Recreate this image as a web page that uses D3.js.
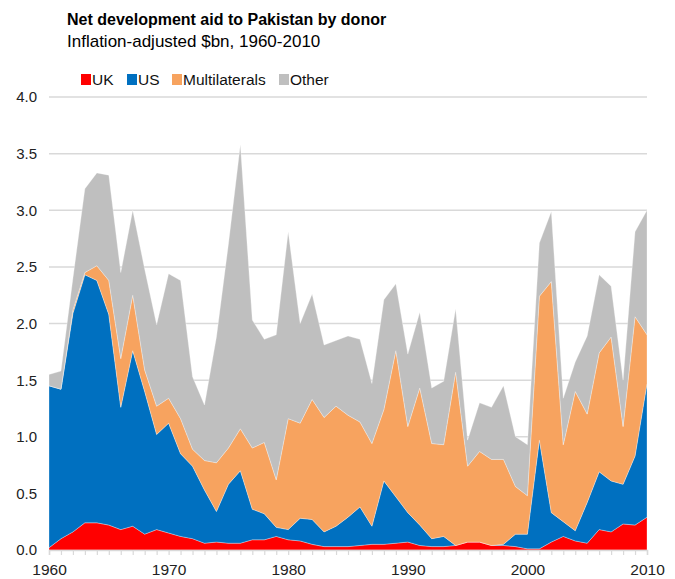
<!DOCTYPE html>
<html>
<head>
<meta charset="utf-8">
<script src="https://cdn.jsdelivr.net/npm/d3@7"></script>
<style>
  body { margin: 0; background: #fff; }
  text { font-family: "Liberation Sans", Arial, sans-serif; }
</style>
</head>
<body>
<svg id="chart" width="675" height="579"></svg>
<script>
const years = d3.range(1960, 2011);

const uk = [0.02, 0.10, 0.16, 0.24, 0.24, 0.22, 0.18, 0.21, 0.14, 0.18,
  0.15, 0.12, 0.10, 0.06, 0.07, 0.06, 0.06, 0.09, 0.09, 0.12,
  0.09, 0.08, 0.05, 0.03, 0.03, 0.03, 0.04, 0.05, 0.05, 0.06,
  0.07, 0.04, 0.03, 0.03, 0.04, 0.07, 0.07, 0.04, 0.04, 0.03,
  0.01, 0.01, 0.07, 0.12, 0.08, 0.06, 0.18, 0.16, 0.23, 0.22, 0.29];

const us = [1.43, 1.32, 1.93, 2.19, 2.14, 1.86, 1.08, 1.55, 1.26, 0.84,
  0.97, 0.73, 0.64, 0.47, 0.27, 0.52, 0.64, 0.27, 0.23, 0.08,
  0.09, 0.20, 0.22, 0.13, 0.18, 0.26, 0.34, 0.16, 0.56, 0.41,
  0.26, 0.18, 0.07, 0.09, 0.00, 0.00, 0.00, 0.00, 0.01, 0.11,
  0.13, 0.96, 0.26, 0.13, 0.09, 0.36, 0.51, 0.45, 0.35, 0.61, 1.18];

const multilaterals = [0.00, 0.00, 0.03, 0.02, 0.13, 0.30, 0.43, 0.49, 0.19, 0.25,
  0.22, 0.31, 0.15, 0.26, 0.43, 0.32, 0.37, 0.54, 0.63, 0.42,
  0.98, 0.84, 1.06, 1.01, 1.06, 0.90, 0.75, 0.73, 0.63, 1.29,
  0.76, 1.21, 0.84, 0.81, 1.53, 0.67, 0.80, 0.76, 0.75, 0.42,
  0.34, 1.27, 2.04, 0.68, 1.23, 0.78, 1.05, 1.27, 0.51, 1.23, 0.43];

const other = [0.10, 0.16, 0.28, 0.74, 0.82, 0.93, 0.76, 0.75, 0.89, 0.72,
  1.10, 1.22, 0.64, 0.49, 1.11, 1.80, 2.51, 1.13, 0.91, 1.28,
  1.65, 0.88, 0.93, 0.64, 0.58, 0.70, 0.73, 0.53, 0.97, 0.59,
  0.64, 0.67, 0.49, 0.56, 0.56, 0.23, 0.43, 0.46, 0.65, 0.44,
  0.45, 0.47, 0.62, 0.41, 0.26, 0.69, 0.69, 0.45, 0.41, 0.75, 1.10];

const seriesNames = ["UK", "US", "Multilaterals", "Other"];
const colors = ["#ff0000", "#0070c0", "#f7a35f", "#bfbfbf"];
const yTicks = [0, 0.5, 1, 1.5, 2, 2.5, 3, 3.5, 4];
const xTickLabels = [1960, 1970, 1980, 1990, 2000, 2010];

const rows = years.map((yr, i) => ({
  year: yr,
  UK: uk[i],
  US: us[i],
  Multilaterals: multilaterals[i],
  Other: other[i],
}));

const svg = d3.select("#chart");
const margin = { top: 97, right: 28, bottom: 29, left: 49 };
const width = 675 - margin.left - margin.right;
const height = 579 - margin.top - margin.bottom;

const x = d3.scaleLinear().domain([1960, 2010]).range([0, width]);
const y = d3.scaleLinear().domain([0, 4]).range([height, 0]);

const g = svg.append("g")
  .attr("transform", `translate(${margin.left},${margin.top})`);

// gridlines
g.append("g")
  .selectAll("line")
  .data(yTicks)
  .enter()
  .append("line")
  .attr("x1", 0)
  .attr("x2", width)
  .attr("y1", (d) => y(d))
  .attr("y2", (d) => y(d))
  .attr("stroke", "#d9d9d9")
  .attr("stroke-width", 1.5);

const stack = d3.stack().keys(seriesNames);
const layers = stack(rows);

const area = d3.area()
  .x((d) => x(d.data.year))
  .y0((d) => y(d[0]))
  .y1((d) => y(d[1]));

g.append("g")
  .selectAll("path")
  .data(layers)
  .enter()
  .append("path")
  .attr("fill", (d, i) => colors[i])
  .attr("stroke", "#ffffff")
  .attr("stroke-opacity", 0.5)
  .attr("stroke-width", 0.6)
  .attr("d", area);

// y axis labels
g.append("g")
  .selectAll("text")
  .data(yTicks)
  .enter()
  .append("text")
  .attr("x", -12)
  .attr("y", (d) => y(d))
  .attr("dy", "0.36em")
  .attr("text-anchor", "end")
  .attr("font-size", 15)
  .attr("fill", "#222")
  .text((d) => d3.format(".1f")(d));

// x axis
const xAxis = d3.axisBottom(x)
  .tickValues(years)
  .tickSize(5)
  .tickFormat((d) => (xTickLabels.includes(d) ? d : ""));

const xg = g.append("g")
  .attr("transform", `translate(0,${height})`)
  .call(xAxis);
xg.select(".domain").attr("stroke", "#d9d9d9").attr("stroke-width", 1.5);
xg.selectAll(".tick line").attr("stroke", "#d9d9d9").attr("stroke-width", 1.2);
xg.selectAll(".tick text")
  .attr("font-size", 15.5)
  .attr("fill", "#222")
  .attr("font-family", "Liberation Sans, Arial, sans-serif")
  .attr("y", 25)
  .attr("dy", 0);

// title
svg.append("text")
  .attr("x", 67)
  .attr("y", 25)
  .attr("font-size", 16)
  .attr("font-weight", "bold")
  .attr("fill", "#000")
  .text("Net development aid to Pakistan by donor");

svg.append("text")
  .attr("x", 67)
  .attr("y", 47)
  .attr("font-size", 17)
  .attr("fill", "#000")
  .text("Inflation-adjusted $bn, 1960-2010");

// legend
const legendX = [81, 127, 172, 279];
const legend = svg.append("g")
  .selectAll("g")
  .data(seriesNames)
  .enter()
  .append("g")
  .attr("transform", (d, i) => `translate(${legendX[i]},74)`);

legend.append("rect")
  .attr("width", 10)
  .attr("height", 11)
  .attr("fill", (d, i) => colors[i]);

legend.append("text")
  .attr("x", 11)
  .attr("y", 11)
  .attr("font-size", 15.5)
  .attr("fill", "#111")
  .text((d) => d);
</script>
</body>
</html>
